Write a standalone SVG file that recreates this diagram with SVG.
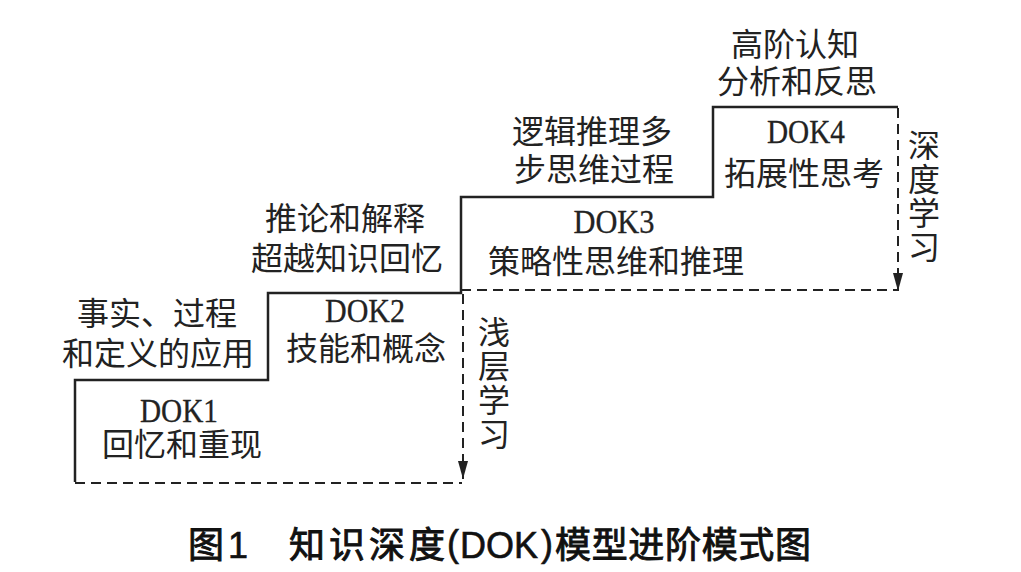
<svg xmlns="http://www.w3.org/2000/svg" width="1021" height="572" viewBox="0 0 1021 572">
<style>
.cjk{font-family:"Noto Sans CJK SC","Noto Sans CJK JP",sans-serif;font-size:32px;fill:#222;text-anchor:middle}
.lat{font-family:"Liberation Serif","Times New Roman",serif;font-size:33px;fill:#222;stroke:#222;stroke-width:0.3;text-anchor:middle}
.solid{fill:none;stroke:#222;stroke-width:2.5}
.dash{fill:none;stroke:#222;stroke-width:2;stroke-dasharray:10 6}
.cap{font-family:"Noto Sans CJK SC","Noto Sans CJK JP",sans-serif;font-size:36px;fill:#111;stroke:#111;stroke-width:0.9}
.capl{font-family:"Liberation Sans",Arial,sans-serif;font-size:36px;fill:#111;stroke:#111;stroke-width:0.6}
</style>
<defs>
<marker id="arrd" markerUnits="userSpaceOnUse" markerWidth="20" markerHeight="12" viewBox="0 0 20 12" refX="18" refY="6" orient="auto">
<path d="M0,1 L18,6 L0,11 Z" fill="#222"/>
</marker>
</defs>
<rect width="1021" height="572" fill="#fff"/>
<g id="connectors">
<path class="solid" d="M75,482 V380 H268 V293 H461 V197 H713 V107 H898"/>
<path class="dash" d="M75,483 H462"/>
<path class="dash" d="M461,290 H898"/>
<path class="dash" d="M463,294 V479" marker-end="url(#arrd)"/>
<path class="dash" d="M898,108 V291" marker-end="url(#arrd)"/>
</g>
<g id="dok1">
<text class="lat" x="179" y="422" textLength="78" lengthAdjust="spacingAndGlyphs">DOK1</text>
<text class="cjk" x="182" y="456">回忆和重现</text>
</g>
<g id="dok1-label">
<text class="cjk" x="157" y="325">事实、过程</text>
<text class="cjk" x="158" y="365">和定义的应用</text>
</g>
<g id="dok2">
<text class="lat" x="365" y="322" textLength="80" lengthAdjust="spacingAndGlyphs">DOK2</text>
<text class="cjk" x="366" y="360">技能和概念</text>
</g>
<g id="dok2-label">
<text class="cjk" x="345" y="230">推论和解释</text>
<text class="cjk" x="347" y="270">超越知识回忆</text>
</g>
<g id="dok3">
<text class="lat" x="614" y="233" textLength="81" lengthAdjust="spacingAndGlyphs">DOK3</text>
<text class="cjk" x="616" y="273">策略性思维和推理</text>
</g>
<g id="dok3-label">
<text class="cjk" x="592" y="143">逻辑推理多</text>
<text class="cjk" x="594" y="181">步思维过程</text>
</g>
<g id="dok4">
<text class="lat" x="806" y="143" textLength="78" lengthAdjust="spacingAndGlyphs">DOK4</text>
<text class="cjk" x="804" y="185">拓展性思考</text>
</g>
<g id="dok4-label">
<text class="cjk" x="795" y="56">高阶认知</text>
<text class="cjk" x="797" y="93">分析和反思</text>
</g>
<g id="shallow">
<text class="cjk" x="494"><tspan x="494" y="344">浅</tspan><tspan x="494" y="378">层</tspan><tspan x="494" y="412">学</tspan><tspan x="494" y="446">习</tspan></text>
</g>
<g id="deep">
<text class="cjk" x="924"><tspan x="924" y="157">深</tspan><tspan x="924" y="191">度</tspan><tspan x="924" y="225">学</tspan><tspan x="924" y="259">习</tspan></text>
</g>
<g id="caption">
<text class="cap" x="188" y="558">图</text>
<text class="capl" x="228" y="558">1</text>
<text class="cap" x="289" y="558" textLength="156" lengthAdjust="spacing">知识深度</text>
<text class="capl" x="447" y="556">(</text>
<text class="capl" x="460" y="558">DOK</text>
<text class="capl" x="541" y="556">)</text>
<text class="cap" x="555" y="558" textLength="256" lengthAdjust="spacing">模型进阶模式图</text>
</g>
</svg>
